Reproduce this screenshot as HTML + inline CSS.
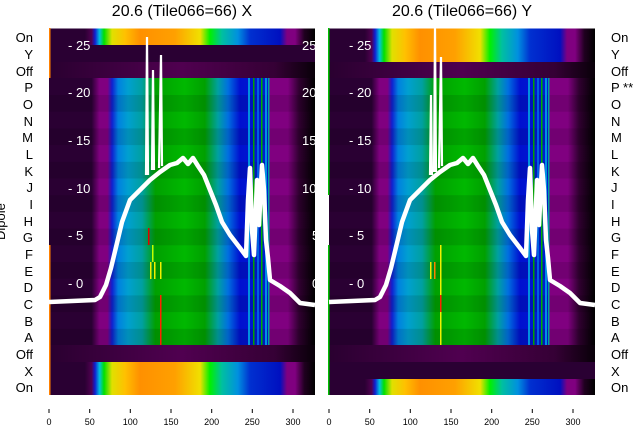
<!DOCTYPE html>
<html><head><meta charset="utf-8"><style>
body{margin:0;background:#fff;}
svg{display:block;font-family:"Liberation Sans","DejaVu Sans",sans-serif;}
</style></head><body>
<svg width="640" height="440" viewBox="0 0 640 440" xmlns="http://www.w3.org/2000/svg">
<defs>
<linearGradient id="band" x1="0" x2="1" y1="0" y2="0">
<stop offset="0" stop-color="#2a0033"/><stop offset="0.16" stop-color="#2a0033"/>
<stop offset="0.19" stop-color="#800080"/><stop offset="0.22" stop-color="#800080"/>
<stop offset="0.237" stop-color="#1020d0"/><stop offset="0.26" stop-color="#0080e0"/>
<stop offset="0.297" stop-color="#00a0d0"/><stop offset="0.35" stop-color="#00a0a0"/>
<stop offset="0.40" stop-color="#00a000"/><stop offset="0.51" stop-color="#00b800"/>
<stop offset="0.586" stop-color="#00a000"/><stop offset="0.635" stop-color="#00a0a0"/>
<stop offset="0.673" stop-color="#0070e0"/><stop offset="0.718" stop-color="#0010d0"/>
<stop offset="0.823" stop-color="#0020d0"/><stop offset="0.83" stop-color="#800080"/>
<stop offset="0.898" stop-color="#800080"/><stop offset="0.94" stop-color="#300030"/>
<stop offset="1" stop-color="#000"/>
</linearGradient>
<linearGradient id="on" x1="0" x2="1" y1="0" y2="0">
<stop offset="0" stop-color="#2a0033"/><stop offset="0.135" stop-color="#2a0033"/>
<stop offset="0.16" stop-color="#500050"/><stop offset="0.173" stop-color="#1020d0"/>
<stop offset="0.19" stop-color="#00c0e0"/><stop offset="0.207" stop-color="#00e000"/>
<stop offset="0.237" stop-color="#e0e000"/><stop offset="0.286" stop-color="#ffc000"/>
<stop offset="0.342" stop-color="#ff9000"/><stop offset="0.474" stop-color="#ffa000"/>
<stop offset="0.568" stop-color="#f0e000"/><stop offset="0.605" stop-color="#00f000"/>
<stop offset="0.65" stop-color="#00c0a0"/><stop offset="0.71" stop-color="#0090e0"/>
<stop offset="0.756" stop-color="#0030d0"/><stop offset="0.868" stop-color="#0010c0"/>
<stop offset="0.895" stop-color="#800080"/><stop offset="0.925" stop-color="#800080"/>
<stop offset="0.96" stop-color="#200020"/><stop offset="1" stop-color="#000"/>
</linearGradient>
<linearGradient id="off" x1="0" x2="1" y1="0" y2="0">
<stop offset="0" stop-color="#2a0030"/><stop offset="0.5" stop-color="#500050"/>
<stop offset="0.85" stop-color="#350035"/><stop offset="1" stop-color="#080008"/>
</linearGradient>
<g id="vl">
<rect x="248" y="78" width="2" height="267" fill="#0090e0"/>
<rect x="253" y="78" width="1.5" height="267" fill="#00a000"/>
<rect x="257" y="78" width="2" height="267" fill="#0060e0"/>
<rect x="261" y="78" width="1.5" height="267" fill="#00b000"/>
<rect x="265" y="78" width="2" height="267" fill="#0090e0"/>
<rect x="268" y="78" width="1.5" height="267" fill="#00a0a0"/>
</g>
<g id="stripes" fill="#000" opacity="0.1">
<rect x="0" y="95" width="266" height="16.7"/><rect x="0" y="128.4" width="266" height="16.7"/>
<rect x="0" y="161.8" width="266" height="16.7"/><rect x="0" y="195.2" width="266" height="16.7"/>
<rect x="0" y="228.6" width="266" height="16.7"/><rect x="0" y="262" width="266" height="16.7"/>
<rect x="0" y="295.4" width="266" height="16.7"/><rect x="0" y="328.8" width="266" height="16.2"/>
</g>
<polyline id="curve" fill="none" stroke="#fff" stroke-width="4.5" stroke-linejoin="round" points="49,302 95,300 100,297 106,285 111,268 117,243 122,222 130,200 140,190 150,180 160,172 170,165 177,163 183,158 188,164 193,158 198,166 204,175 210,190 216,205 222,222 230,235 240,248 246,256 248,200 250,168 252,230 254,255 257,180 259,225 262,165 264,190 266,240 268,258 270,280 280,286 290,293 300,303 315,305"/>
</defs>

<!-- left panel -->
<g>
<rect x="49" y="28.5" width="266" height="16.7" fill="url(#on)"/>
<rect x="49" y="45" width="266" height="17" fill="#2a0033"/>
<rect x="49" y="62" width="266" height="16" fill="url(#off)"/>
<rect x="49" y="78" width="266" height="267" fill="url(#band)"/>
<use href="#stripes" x="49"/>
<rect x="49" y="345" width="266" height="17" fill="url(#off)"/>
<rect x="49" y="362" width="266" height="33" fill="url(#on)"/>
<use href="#vl"/>
<rect x="49" y="28" width="1.5" height="50" fill="#ff8000"/>
<rect x="49" y="245" width="1.5" height="150" fill="#ff8000"/>
<rect x="148" y="228" width="1.5" height="17" fill="#e00000"/>
<rect x="152" y="245" width="1.5" height="17" fill="#c0ff00"/>
<rect x="150" y="262" width="1.5" height="17" fill="#f0f000"/>
<rect x="154" y="262" width="1.5" height="17" fill="#f0f000"/>
<rect x="160" y="262" width="1.5" height="17" fill="#f0f000"/>
<rect x="160" y="295" width="1.5" height="50" fill="#ff2000"/>
<use href="#curve"/>
<g stroke="#fff" stroke-width="2.2" fill="none">
<polyline points="146,175 147,37 148,175"/>
<polyline points="152,170 153,70 154,170"/>
<polyline points="159,168 161,55 162,166"/>
</g>
<g fill="#fff" font-size="13">
<text x="68" y="50">- 25</text><text x="68" y="97">- 20</text><text x="68" y="145">- 15</text>
<text x="68" y="193">- 10</text><text x="68" y="240">- 5</text><text x="68" y="288">- 0</text>
<text x="302" y="50">25</text><text x="302" y="97">20</text><text x="302" y="145">15</text>
<text x="302" y="193">10</text><text x="312" y="240">5</text><text x="312" y="288">0</text>
</g>
</g>

<!-- right panel -->
<g>
<rect x="329" y="28.5" width="266" height="33.5" fill="url(#on)"/>
<rect x="329" y="62" width="266" height="16" fill="url(#off)"/>
<rect x="329" y="78" width="266" height="267" fill="url(#band)"/>
<use href="#stripes" x="329"/>
<rect x="329" y="345" width="266" height="17" fill="url(#off)"/>
<rect x="329" y="362" width="266" height="17" fill="#2a0033"/>
<rect x="329" y="379" width="266" height="16" fill="url(#on)"/>
<use href="#vl" x="280"/>
<rect x="328" y="28" width="1.5" height="167" fill="#00c000"/>
<rect x="328" y="245" width="1.5" height="150" fill="#00c000"/>
<rect x="440" y="245" width="1.5" height="100" fill="#f0f000"/>
<rect x="440" y="295" width="1.5" height="17" fill="#ff2000"/>
<rect x="430" y="262" width="1.5" height="17" fill="#f0f000"/>
<rect x="434" y="262" width="1.5" height="17" fill="#ff8000"/>
<use href="#curve" x="280"/>
<g stroke="#fff" stroke-width="2.2" fill="none">
<polyline points="430,175 431,95 432,175"/>
<polyline points="434,172 435,28 436,172"/>
<polyline points="439,168 441,57 442,166"/>
</g>
<g fill="#fff" font-size="13">
<text x="349" y="50">- 25</text><text x="349" y="97">- 20</text><text x="349" y="145">- 15</text>
<text x="349" y="193">- 10</text><text x="349" y="240">- 5</text><text x="349" y="288">- 0</text>
</g>
</g>

<!-- titles -->
<g font-size="16" fill="#000" text-anchor="middle">
<text x="182" y="16">20.6 (Tile066=66) X</text>
<text x="462" y="16">20.6 (Tile066=66) Y</text>
</g>

<!-- row labels -->
<g font-size="13" fill="#000" text-anchor="end">
<text x="33" y="42">On</text><text x="33" y="59">Y</text><text x="33" y="76">Off</text>
<text x="33" y="92">P</text><text x="33" y="109">O</text><text x="33" y="126">N</text>
<text x="33" y="142">M</text><text x="33" y="159">L</text><text x="33" y="176">K</text>
<text x="33" y="192">J</text><text x="33" y="209">I</text><text x="33" y="226">H</text>
<text x="33" y="242">G</text><text x="33" y="259">F</text><text x="33" y="276">E</text>
<text x="33" y="292">D</text><text x="33" y="309">C</text><text x="33" y="326">B</text>
<text x="33" y="342">A</text><text x="33" y="359">Off</text><text x="33" y="376">X</text>
<text x="33" y="392">On</text>
</g>
<g font-size="13" fill="#000">
<text x="611" y="42">On</text><text x="611" y="59">Y</text><text x="611" y="76">Off</text>
<text x="611" y="92">P **</text><text x="611" y="109">O</text><text x="611" y="126">N</text>
<text x="611" y="142">M</text><text x="611" y="159">L</text><text x="611" y="176">K</text>
<text x="611" y="192">J</text><text x="611" y="209">I</text><text x="611" y="226">H</text>
<text x="611" y="242">G</text><text x="611" y="259">F</text><text x="611" y="276">E</text>
<text x="611" y="292">D</text><text x="611" y="309">C</text><text x="611" y="326">B</text>
<text x="611" y="342">A</text><text x="611" y="359">Off</text><text x="611" y="376">X</text>
<text x="611" y="392">On</text>
</g>
<text x="0" y="0" font-size="13" transform="translate(5,240) rotate(-90)" fill="#000">Dipole</text>

<!-- x axes -->
<g stroke="#000" stroke-width="1">
<line x1="49" y1="409" x2="49" y2="413"/><line x1="89.7" y1="409" x2="89.7" y2="413"/>
<line x1="130.3" y1="409" x2="130.3" y2="413"/><line x1="171" y1="409" x2="171" y2="413"/>
<line x1="211.7" y1="409" x2="211.7" y2="413"/><line x1="252.3" y1="409" x2="252.3" y2="413"/>
<line x1="293" y1="409" x2="293" y2="413"/>
<line x1="329" y1="409" x2="329" y2="413"/><line x1="369.7" y1="409" x2="369.7" y2="413"/>
<line x1="410.3" y1="409" x2="410.3" y2="413"/><line x1="451" y1="409" x2="451" y2="413"/>
<line x1="491.7" y1="409" x2="491.7" y2="413"/><line x1="532.3" y1="409" x2="532.3" y2="413"/>
<line x1="573" y1="409" x2="573" y2="413"/>
</g>
<g font-size="9" fill="#000" text-anchor="middle">
<text x="49" y="425">0</text><text x="89.7" y="425">50</text><text x="130.3" y="425">100</text>
<text x="171" y="425">150</text><text x="211.7" y="425">200</text><text x="252.3" y="425">250</text>
<text x="293" y="425">300</text>
<text x="329" y="425">0</text><text x="369.7" y="425">50</text><text x="410.3" y="425">100</text>
<text x="451" y="425">150</text><text x="491.7" y="425">200</text><text x="532.3" y="425">250</text>
<text x="573" y="425">300</text>
</g>
</svg>
</body></html>
